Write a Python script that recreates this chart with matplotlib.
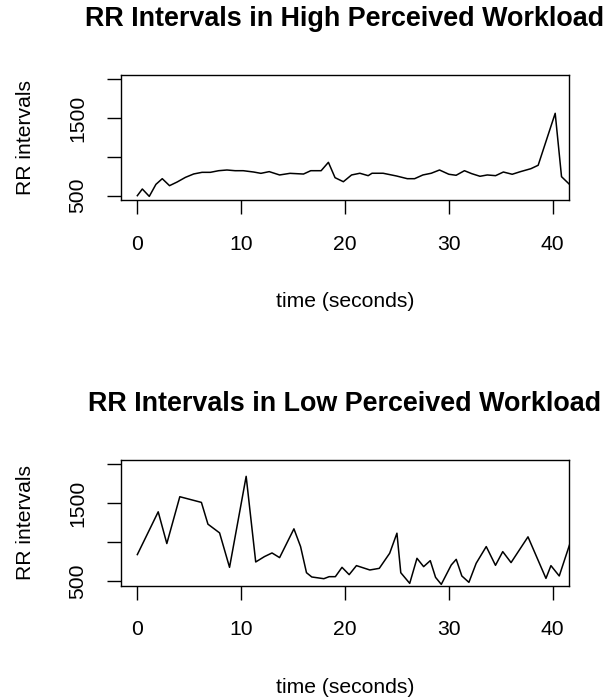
import numpy as np
import matplotlib.pyplot as plt

plt.rcParams['font.family'] = ['Liberation Sans', 'DejaVu Sans']

# Intervalos RR (ms) - carga alta
high_t = [0, 0.48, 1.15, 1.79, 2.4, 3.1, 3.83, 4.63, 5.43, 6.23,
          7.03, 7.83, 8.63, 9.42, 10.2, 11.2, 11.9, 12.7, 13.7, 14.7,
          16.0, 16.7, 17.7, 18.4, 19.04, 19.84, 20.63, 21.43, 22.23, 22.6,
          23.67, 24.95, 26.0, 26.7, 27.5, 28.3, 29.1, 30.0, 30.7, 31.5,
          32.2, 33.0, 33.7, 34.5, 35.25, 36.1, 36.9, 37.9, 38.6, 40.24,
          40.85, 41.7]
high_rr = [500, 586, 491, 646, 719, 629, 676, 736, 780, 801,
           801, 822, 831, 822, 822, 805, 788, 810, 767, 788,
           779, 822, 822, 930, 732, 680, 767, 789, 758, 789,
           789, 754, 719, 719, 767, 789, 831, 776, 763, 822,
           784, 750, 767, 758, 805, 776, 810, 848, 892, 1562,
           745, 635]

# carga baixa
low_t = [0, 2.01, 2.84, 4.09, 6.17, 6.8, 7.92, 8.88, 10.48, 11.4,
         12.24, 12.97, 13.7, 15.08, 15.72, 16.29, 16.8, 17.96, 18.47, 19.07,
         19.71, 20.4, 21.1, 22.39, 23.3, 24.3, 25.0, 25.37, 26.23, 26.93,
         27.57, 28.21, 28.72, 29.27, 30.23, 30.71, 31.25, 31.93, 32.63, 33.6,
         34.49, 35.19, 35.99, 37.62, 39.35, 39.83, 40.63, 41.7]
low_rr = [840, 1390, 982, 1584, 1511, 1231, 1119, 676, 1846, 745,
          814, 861, 801, 1171, 943, 607, 552, 530, 556, 556,
          676, 582, 698, 642, 663, 857, 1115, 607, 470, 792,
          685, 762, 547, 457, 706, 779, 565, 483, 728, 943,
          702, 878, 737, 1068, 534, 698, 565, 998]

titles = ["RR Intervals in High Perceived Workload",
          "RR Intervals in Low Perceived Workload"]
xticks = [0, 10, 20, 30, 40]
yticks = [500, 1000, 1500, 2000]
ytick_labels = ["500", "", "1500", ""]

fig = plt.figure(figsize=(6.1, 6.98), dpi=100)
ax1 = fig.add_axes([0.1979, 0.713, 0.7354, 0.180])
ax2 = fig.add_axes([0.1979, 0.1609, 0.7354, 0.1805])

for ax, t, rr, title in [(ax1, high_t, high_rr, titles[0]),
                         (ax2, low_t, low_rr, titles[1])]:
    ax.plot(t, rr, color='black', linewidth=1.1)
    ax.set_xlim(-1.6, 41.6)
    ax.set_ylim(440, 2060)
    ax.set_xticks(xticks)
    ax.set_yticks(yticks)
    ax.set_yticklabels(ytick_labels)
    ax.tick_params(axis='both', direction='out', length=10, width=1,
                   labelsize=15.2)
    ax.tick_params(axis='x', pad=15)
    ax.tick_params(axis='y', pad=14)
    for lab in ax.get_yticklabels():
        lab.set_rotation(90)
        lab.set_va('center')
    for s in ax.spines.values():
        s.set_linewidth(1)
    ax.set_title(title, fontsize=19.4, fontweight='bold', pad=35)
    ax.set_xlabel("time (seconds)", fontsize=15.2)
    ax.set_ylabel("RR intervals", fontsize=15.2)
    ax.xaxis.set_label_coords(0.5, -0.73)
    ax.yaxis.set_label_coords(-0.19, 0.5)

plt.savefig("out.png", dpi=100)
